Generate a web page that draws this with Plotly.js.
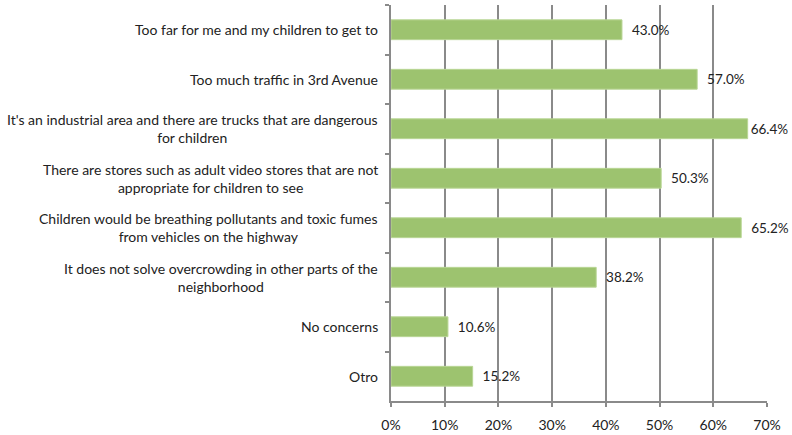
<!DOCTYPE html>
<html>
<head>
<meta charset="utf-8">
<script src="https://cdn.plot.ly/plotly-3.0.1.min.js"></script>
<style>html,body{margin:0;padding:0;background:#fff;}#chart{width:792px;height:435px;}</style>
</head>
<body>
<div id="chart"></div>
<script>
var categories = [
  "Too far for me and my children to get to",
  "Too much traffic in 3rd Avenue",
  "It's an industrial area and there are trucks that are dangerous<br>for children",
  "There are stores such as adult video stores that are not<br>appropriate for children to see",
  "Children would be breathing pollutants and toxic fumes<br>from vehicles on the highway",
  "It does not solve overcrowding in other parts of the<br>neighborhood",
  "No concerns",
  "Otro"
];
var values = [0.430, 0.570, 0.664, 0.503, 0.652, 0.382, 0.106, 0.152];
var valueLabels = ["43.0%", "57.0%", "66.4%", "50.3%", "65.2%", "38.2%", "10.6%", "15.2%"];
var tickVals = [0, 0.1, 0.2, 0.3, 0.4, 0.5, 0.6, 0.7];
var tickText = ["0%", "10%", "20%", "30%", "40%", "50%", "60%", "70%"];

var FONT = "Lato, 'Open Sans', sans-serif";
var grey = "#8a8a8a";

var trace = {
  type: "bar",
  orientation: "h",
  y: categories,
  x: values,
  text: valueLabels,
  texttemplate: values.map(function(v){ return v > 0.66 ? "%{text}" : "  %{text}"; }),
  textposition: "outside",
  cliponaxis: false,
  textfont: {family: FONT, size: 13.5, color: "#222"},
  marker: {color: "#9dc36f", line: {color: "#b9d695", width: 1}},
  hoverinfo: "none"
};

var annotations = categories.map(function(c){
  return {
    xref: "paper", yref: "y", x: 0, y: c,
    xanchor: "right", yanchor: "middle", xshift: -11,
    align: "center", showarrow: false,
    text: c,
    font: {family: FONT, size: 14, color: "#222"}
  };
});

var layout = {
  width: 792, height: 435,
  margin: {l: 391, r: 25, t: 5, b: 34},
  paper_bgcolor: "#fff", plot_bgcolor: "#fff",
  showlegend: false,
  bargap: 0.6,
  font: {family: FONT, size: 14, color: "#222"},
  xaxis: {
    range: [0, 0.7],
    tickvals: tickVals, ticktext: tickText,
    showgrid: true, gridcolor: grey, gridwidth: 2,
    showline: true, linecolor: grey, linewidth: 2,
    ticks: "outside", ticklen: 4, tickcolor: grey, tickwidth: 2,
    ticklabelstandoff: 6,
    zeroline: false,
    tickfont: {family: FONT, size: 14, color: "#222"},
    fixedrange: true
  },
  yaxis: {
    type: "category",
    autorange: "reversed",
    showticklabels: false,
    showline: true, linecolor: grey, linewidth: 2,
    ticks: "outside", ticklen: 4, tickcolor: grey, tickwidth: 2,
    tickson: "boundaries",
    showgrid: false, zeroline: false,
    fixedrange: true
  },
  annotations: annotations
};

Plotly.newPlot("chart", [trace], layout, {displayModeBar: false, staticPlot: true});
</script>
</body>
</html>
